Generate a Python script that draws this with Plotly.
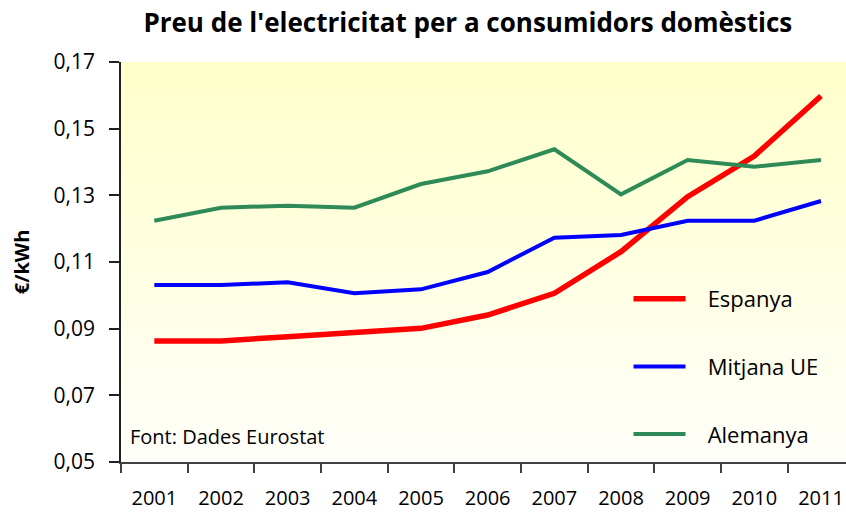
import plotly.graph_objects as go

years = ["2001", "2002", "2003", "2004", "2005", "2006", "2007", "2008", "2009", "2010", "2011"]
espanya = [0.0863, 0.0863, 0.0876, 0.0889, 0.0901, 0.0941, 0.1006, 0.1131, 0.1296, 0.1418, 0.1598]
mitjana_ue = [0.1031, 0.1031, 0.1039, 0.1006, 0.1018, 0.1070, 0.1173, 0.1181, 0.1224, 0.1224, 0.1283]
alemanya = [0.1224, 0.1263, 0.1269, 0.1263, 0.1334, 0.1372, 0.1438, 0.1303, 0.1406, 0.1386, 0.1406]
y_ticks = [0.05, 0.07, 0.09, 0.11, 0.13, 0.15, 0.17]

title = "Preu de l'electricitat per a consumidors domèstics"
FONT = "'Open Sans', sans-serif"
NB = "\u00a0\u00a0\u00a0"

x = list(range(len(years)))
y_min, y_max = y_ticks[0], y_ticks[-1]
x_lo, x_hi = -0.5, len(years) - 0.5

fig = go.Figure()

# background gradient (light yellow at top, white at bottom)
fig.add_trace(go.Heatmap(
    x=[x_lo, x_hi], y=[y_min, y_max], z=[[0, 0], [1, 1]],
    colorscale=[[0, "#FFFFFA"], [1, "#FFFFCA"]], zsmooth="best",
    showscale=False, hoverinfo="skip", showlegend=False,
))

series = [
    ("Espanya", espanya, "#FF0000", 5.5),
    ("Mitjana UE", mitjana_ue, "#0000FF", 4),
    ("Alemanya", alemanya, "#2E8B57", 4),
]
for name, vals, color, w in series:
    fig.add_trace(go.Scatter(
        x=x, y=vals, mode="lines", name=NB + name, legendgroup=name,
        line=dict(color=color, width=w),
    ))

fig.update_layout(
    width=846, height=513,
    margin=dict(l=121, r=0, t=62, b=51),
    paper_bgcolor="white", plot_bgcolor="white",
    separators=",.",
    font=dict(family=FONT, color="black"),
    title=dict(text="<b>" + title + "</b>", x=0.553, xanchor="center", y=0.955, yanchor="middle",
               yref="container", font=dict(size=26, family=FONT)),
    legend=dict(x=0.70, y=0.46, xanchor="left", yanchor="top", bgcolor="rgba(0,0,0,0)",
                font=dict(size=22, family=FONT), tracegroupgap=36, itemwidth=52),
    showlegend=True,
)

fig.update_xaxes(
    range=[x_lo, x_hi - 0.125], tickmode="array", tickvals=x, ticktext=years,
    ticks="", showgrid=False, zeroline=False, automargin=False,
    showline=True, linecolor="#404040", linewidth=1.5,
    tickfont=dict(size=20), ticklabelstandoff=17,
    minor=dict(tickmode="array", tickvals=[i - 0.5 for i in x] + [x_hi], ticks="outside",
               ticklen=9, tickcolor="#404040", tickwidth=1.5, showgrid=False),
)
fig.update_yaxes(
    range=[y_min, y_max], tickmode="array", tickvals=y_ticks, tickformat=".2f",
    ticks="outside", ticklen=10, tickcolor="#202020", tickwidth=1.5,
    showgrid=True, gridcolor="#909090", gridwidth=1, zeroline=False, automargin=False,
    showline=True, linecolor="#202020", linewidth=1.5,
    tickfont=dict(size=21), ticklabelstandoff=10,
    title=dict(text="<b>€/kWh</b>", font=dict(size=20), standoff=19),
)

fig.add_annotation(
    text="Font: Dades Eurostat", xref="paper", yref="paper", x=0.01, y=0.063,
    xanchor="left", yanchor="middle", showarrow=False, font=dict(size=20, family=FONT),
)

# remove the page's default 8px body margin so the figure fills the window exactly
fig.write_html("out.html", config={"displayModeBar": False},
               post_script="document.body.style.margin='0';")
